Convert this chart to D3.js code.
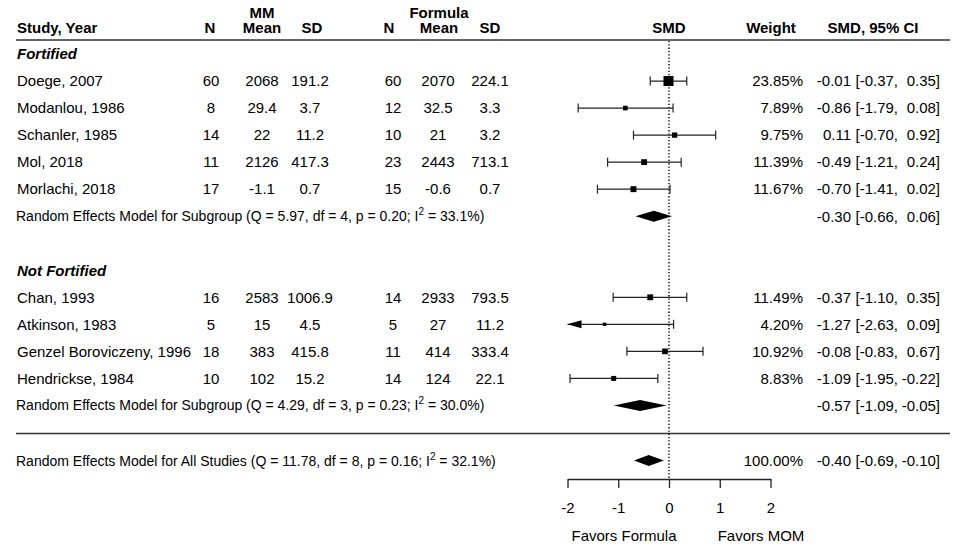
<!DOCTYPE html>
<html>
<head>
<meta charset="utf-8">
<script src="https://cdn.jsdelivr.net/npm/d3@7"></script>
<style>
  html, body { margin: 0; padding: 0; background: #fff; }
  svg { display: block; font-family: "Liberation Sans", Arial, sans-serif; }
  text { white-space: pre; }
</style>
</head>
<body>
<svg id="chart" width="957" height="551"></svg>
<script>
// ---------------- data ----------------
const groupNames = ["Fortified", "Not Fortified"];
const studies = ["Doege, 2007", "Modanlou, 1986", "Schanler, 1985", "Mol, 2018", "Morlachi, 2018",
                 "Chan, 1993", "Atkinson, 1983", "Genzel Boroviczeny, 1996", "Hendrickse, 1984"];
const studyGroup = [0, 0, 0, 0, 0, 1, 1, 1, 1];
const mmN    = ["60", "8", "14", "11", "17", "16", "5", "18", "10"];
const mmMean = ["2068", "29.4", "22", "2126", "-1.1", "2583", "15", "383", "102"];
const mmSD   = ["191.2", "3.7", "11.2", "417.3", "0.7", "1006.9", "4.5", "415.8", "15.2"];
const fN     = ["60", "12", "10", "23", "15", "14", "5", "11", "14"];
const fMean  = ["2070", "32.5", "21", "2443", "-0.6", "2933", "27", "414", "124"];
const fSD    = ["224.1", "3.3", "3.2", "713.1", "0.7", "793.5", "11.2", "333.4", "22.1"];
const weights = [23.85, 7.89, 9.75, 11.39, 11.67, 11.49, 4.20, 10.92, 8.83];
const smd     = [-0.01, -0.86, 0.11, -0.49, -0.70, -0.37, -1.27, -0.08, -1.09];
const ciLow   = [-0.37, -1.79, -0.70, -1.21, -1.41, -1.10, -2.63, -0.83, -1.95];
const ciHigh  = [0.35, 0.08, 0.92, 0.24, 0.02, 0.35, 0.09, 0.67, -0.22];

const summaryLabels = ["Random Effects Model for Subgroup", "Random Effects Model for Subgroup", "Random Effects Model for All Studies"];
const summaryQ   = ["5.97", "4.29", "11.78"];
const summaryDf  = ["4", "3", "8"];
const summaryP   = ["0.20", "0.23", "0.16"];
const summaryI2  = ["33.1%", "30.0%", "32.1%"];
const summaryEst = [-0.30, -0.57, -0.40];
const summaryLow = [-0.66, -1.09, -0.69];
const summaryHigh = [0.06, -0.05, -0.10];
const summaryWeight = [null, null, "100.00%"];

const axisTicks = [-2, -1, 0, 1, 2];
const favorLabels = ["Favors Formula", "Favors MOM"];

// row layout (row index per item)
const groupRows = [0, 8];
const studyRows = [1, 2, 3, 4, 5, 9, 10, 11, 12];
const summaryRows = [6, 13, 15];
const separatorRow = 14;

// ---------------- drawing ----------------
const svg = d3.select("#chart");
const x = d3.scaleLinear().domain([-2, 2]).range([567.5, 770.5]);
const y = d3.scaleLinear().domain([0, 15]).range([54, 459.5]);
const sizeScale = d3.scaleLinear().domain([0, d3.max(weights)]).range([2, 10]);
const fmt = d3.format(".2f");
const fmtNum = v => (v < 0 ? "-" : "") + fmt(Math.abs(v));
const padNum = v => (v < 0 ? "" : " ") + fmtNum(v);

const FS = 15;
const axisY = 479;
const ink = "#000";

// column positions
const colN1 = 211, colMean1 = 262, colSD1 = 310, colN2 = 393, colMean2 = 438, colSD2 = 490;
const colWeightR = 803, colEstR = 851, colLoR = 898, colHiR = 940;

function txt(xp, yp, s, opts = {}) {
  return svg.append("text")
    .attr("x", xp).attr("y", yp)
    .attr("font-size", opts.size || FS)
    .attr("font-weight", opts.bold ? "bold" : null)
    .attr("font-style", opts.italic ? "italic" : null)
    .attr("text-anchor", opts.anchor || "start")
    .attr("fill", ink)
    .text(s);
}

// headers
const hb = 33;
txt(17, hb, "Study, Year", { bold: true });
txt(210, hb, "N", { bold: true, anchor: "middle" });
txt(262, 17.5, "MM", { bold: true, anchor: "middle" });
txt(262, hb, "Mean", { bold: true, anchor: "middle" });
txt(312, hb, "SD", { bold: true, anchor: "middle" });
txt(389, hb, "N", { bold: true, anchor: "middle" });
txt(439, 17.5, "Formula", { bold: true, anchor: "middle" });
txt(439, hb, "Mean", { bold: true, anchor: "middle" });
txt(490, hb, "SD", { bold: true, anchor: "middle" });
txt(x(0), hb, "SMD", { bold: true, anchor: "middle" });
txt(771, hb, "Weight", { bold: true, anchor: "middle" });
txt(873, hb, "SMD, 95% CI", { bold: true, anchor: "middle" });

// header rule & separator
svg.append("line").attr("x1", 16).attr("x2", 950).attr("y1", 40).attr("y2", 40)
  .attr("stroke", "#333").attr("stroke-width", 1.6);
svg.append("line").attr("x1", 16).attr("x2", 950)
  .attr("y1", y(separatorRow) + 1).attr("y2", y(separatorRow) + 1)
  .attr("stroke", "#333").attr("stroke-width", 1.6);

// dotted reference line
svg.append("line").attr("x1", x(0)).attr("x2", x(0)).attr("y1", 41).attr("y2", axisY)
  .attr("stroke", ink).attr("stroke-width", 1.4).attr("stroke-dasharray", "1.3,2");

const base = 5.3; // vertical offset from row centre to baseline

// group labels
groupNames.forEach((g, i) => txt(17, y(groupRows[i]) + base, g, { bold: true, italic: true }));

// study rows
studies.forEach((s, i) => {
  const yy = y(studyRows[i]);
  const yb = yy + base;
  txt(17, yb, s);
  txt(colN1, yb, mmN[i], { anchor: "middle" });
  txt(colMean1, yb, mmMean[i], { anchor: "middle" });
  txt(colSD1, yb, mmSD[i], { anchor: "middle" });
  txt(colN2, yb, fN[i], { anchor: "middle" });
  txt(colMean2, yb, fMean[i], { anchor: "middle" });
  txt(colSD2, yb, fSD[i], { anchor: "middle" });
  txt(colWeightR, yb, weights[i].toFixed(2) + "%", { anchor: "end" });
  txt(colEstR, yb, padNum(smd[i]), { anchor: "end" });
  txt(colLoR, yb, "[" + fmtNum(ciLow[i]) + ",", { anchor: "end" });
  txt(colHiR, yb, padNum(ciHigh[i]) + "]", { anchor: "end" });

  // CI line
  const lo = Math.max(ciLow[i], x.domain()[0]);
  const hi = Math.min(ciHigh[i], x.domain()[1]);
  const g = svg.append("g");
  g.append("line").attr("x1", x(lo)).attr("x2", x(hi)).attr("y1", yy).attr("y2", yy)
    .attr("stroke", "#222").attr("stroke-width", 1.2);
  const cap = 4.5;
  if (ciLow[i] >= x.domain()[0]) {
    g.append("line").attr("x1", x(lo)).attr("x2", x(lo)).attr("y1", yy - cap).attr("y2", yy + cap)
      .attr("stroke", "#222").attr("stroke-width", 1.2);
  } else {
    const tip = x(x.domain()[0]);
    g.append("polygon")
      .attr("points", [[tip, yy], [tip + 14, yy - 4], [tip + 14, yy + 4]].map(p => p.join(",")).join(" "))
      .attr("fill", ink);
  }
  if (ciHigh[i] <= x.domain()[1]) {
    g.append("line").attr("x1", x(hi)).attr("x2", x(hi)).attr("y1", yy - cap).attr("y2", yy + cap)
      .attr("stroke", "#222").attr("stroke-width", 1.2);
  }
  const sz = sizeScale(weights[i]);
  g.append("rect").attr("x", x(smd[i]) - sz / 2).attr("y", yy - sz / 2)
    .attr("width", sz).attr("height", sz).attr("fill", ink);
});

// summary rows
summaryLabels.forEach((lab, i) => {
  const yy = y(summaryRows[i]) + (i === 2 ? 1 : 0);
  const yb = yy + 5;
  const t = svg.append("text").attr("x", 16).attr("y", yb).attr("font-size", 14).attr("fill", ink);
  t.append("tspan").text(`${lab} (Q = ${summaryQ[i]}, df = ${summaryDf[i]}, p = ${summaryP[i]}; I`);
  t.append("tspan").attr("font-size", 10).attr("dy", -6).text("2");
  t.append("tspan").attr("dy", 6).text(` = ${summaryI2[i]})`);

  if (summaryWeight[i]) txt(colWeightR, yb + 0.3, summaryWeight[i], { anchor: "end" });
  txt(colEstR, yb + 0.3, padNum(summaryEst[i]), { anchor: "end" });
  txt(colLoR, yb + 0.3, "[" + fmtNum(summaryLow[i]) + ",", { anchor: "end" });
  txt(colHiR, yb + 0.3, padNum(summaryHigh[i]) + "]", { anchor: "end" });

  const h = 5.5;
  svg.append("polygon")
    .attr("points", [[x(summaryLow[i]), yy], [x(summaryEst[i]), yy - h],
                     [x(summaryHigh[i]), yy], [x(summaryEst[i]), yy + h]].map(p => p.join(",")).join(" "))
    .attr("fill", ink);
});

// axis
const axis = d3.axisBottom(x).tickValues(axisTicks).tickSize(9).tickSizeOuter(0).tickPadding(14)
  .tickFormat(d => String(d));
const ax = svg.append("g").attr("transform", `translate(0,${axisY})`).call(axis);
ax.select(".domain").attr("stroke", "#222").attr("stroke-width", 1.3);
ax.selectAll(".tick line").attr("stroke", "#222").attr("stroke-width", 1.3);
ax.selectAll(".tick text").attr("font-size", FS).attr("fill", ink)
  .attr("font-family", "'Liberation Sans', Arial, sans-serif");

// favours labels
txt(624, 541, favorLabels[0], { anchor: "middle" });
txt(761, 541, favorLabels[1], { anchor: "middle" });
</script>
</body>
</html>
